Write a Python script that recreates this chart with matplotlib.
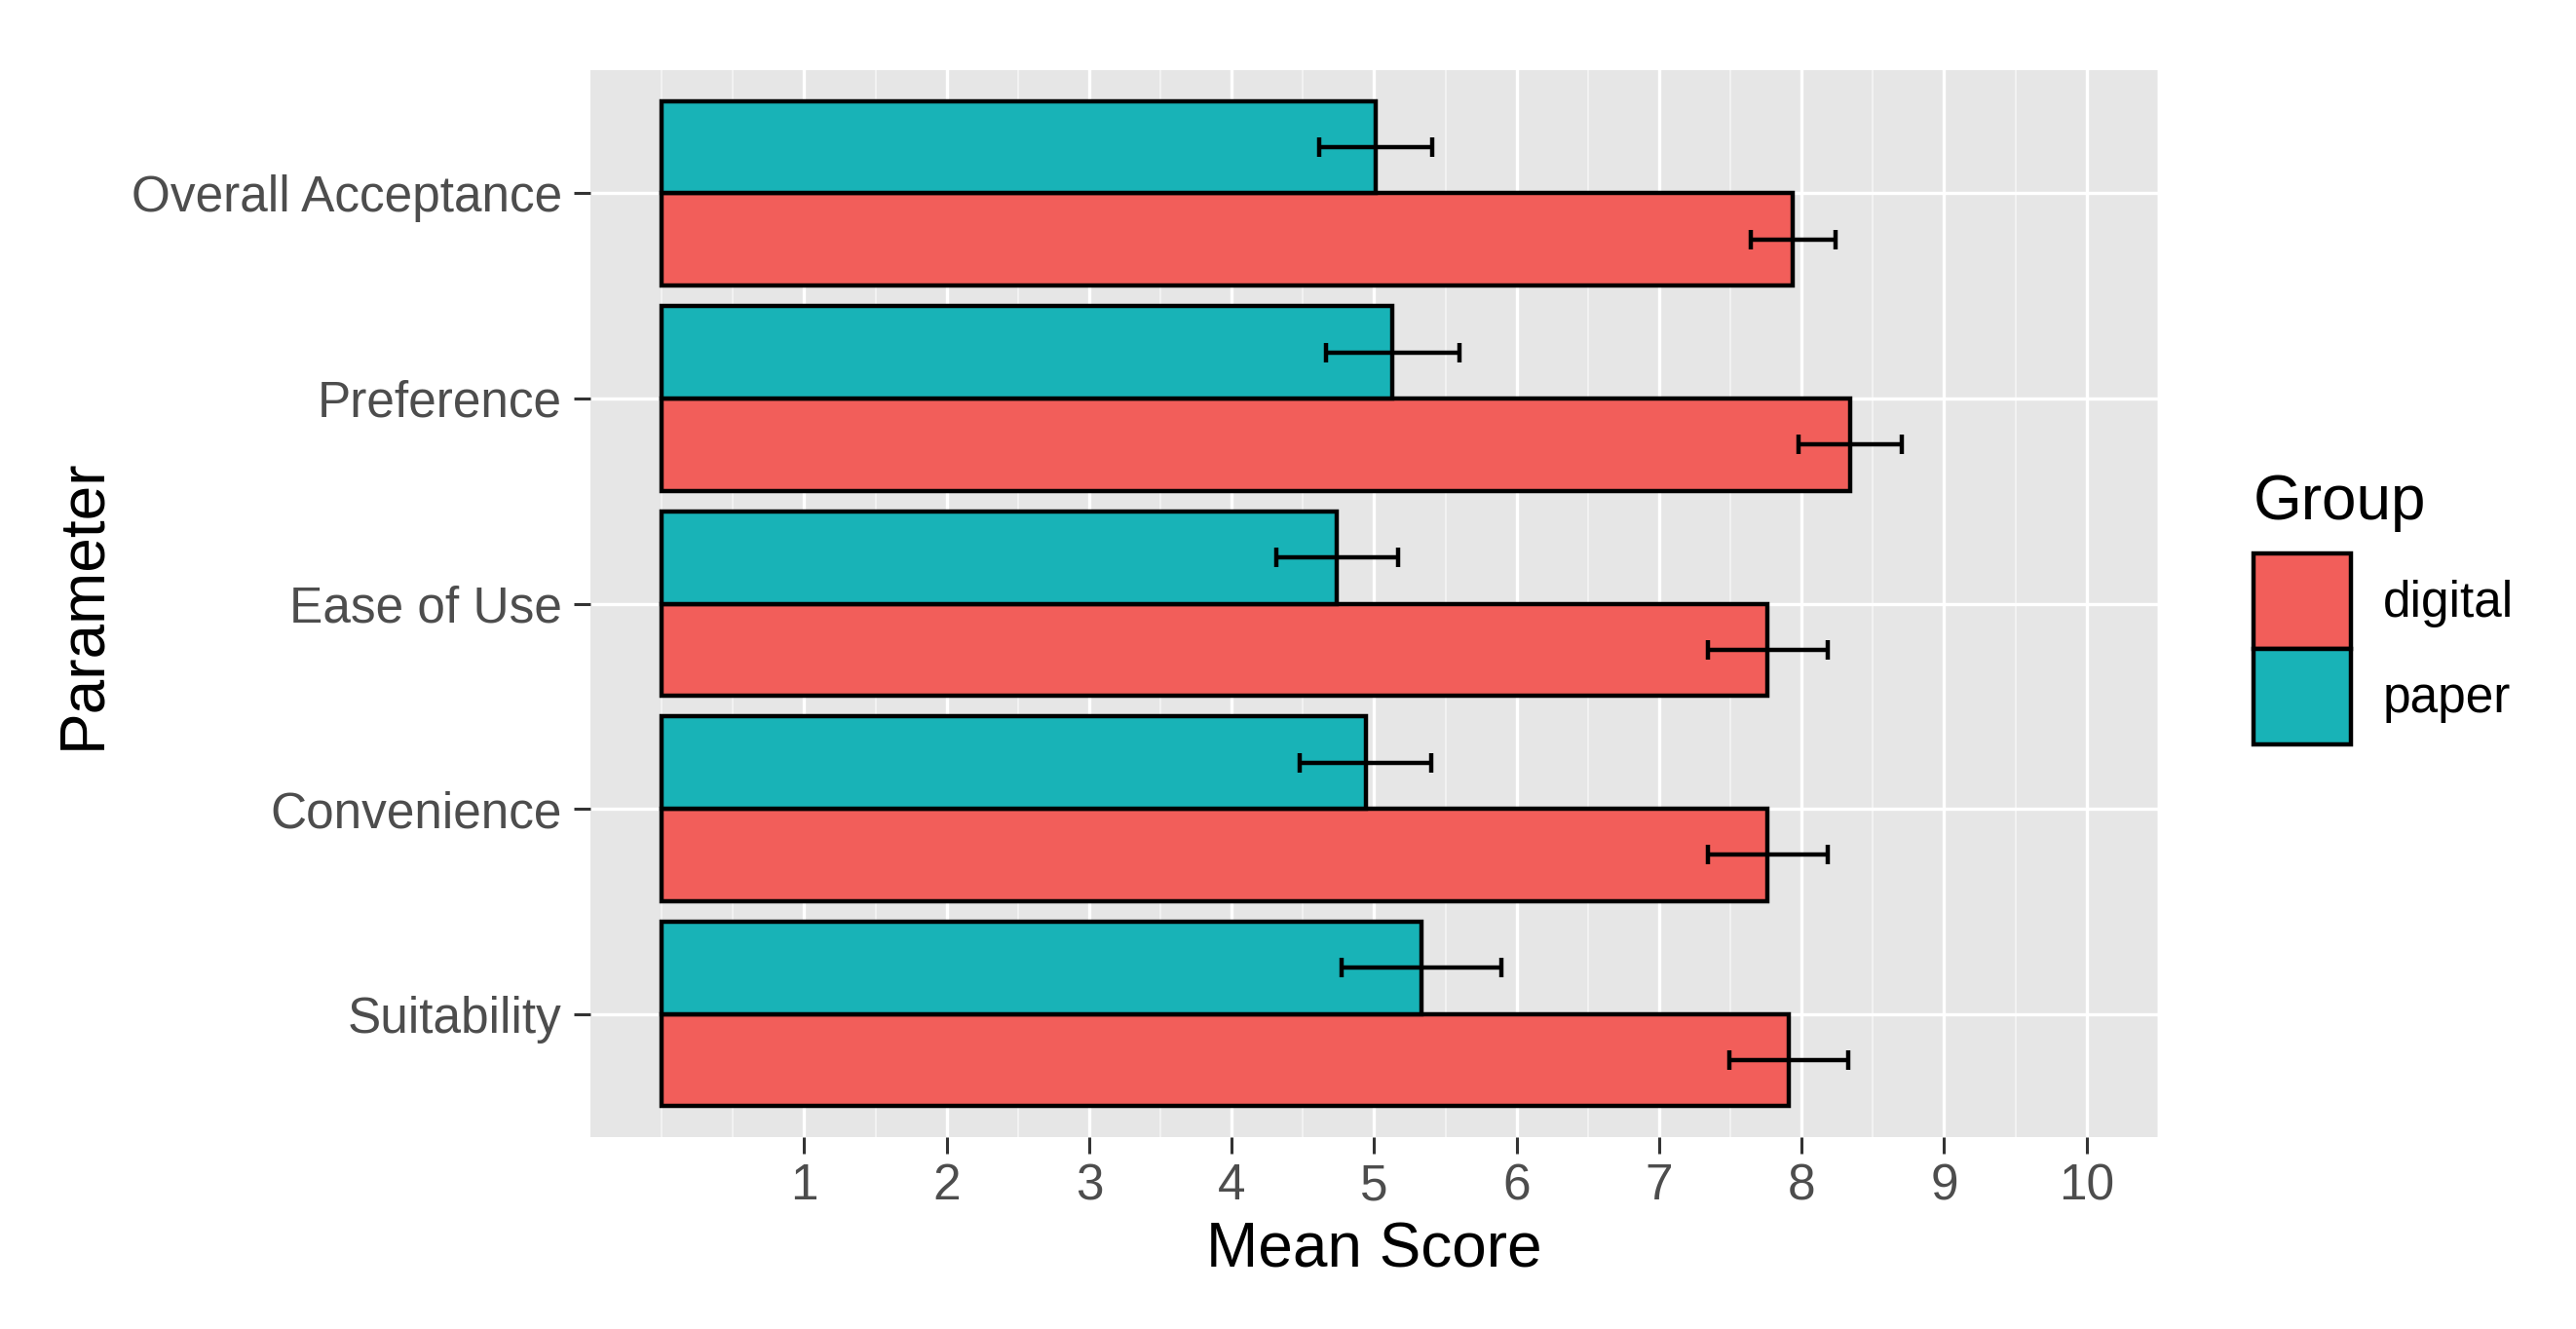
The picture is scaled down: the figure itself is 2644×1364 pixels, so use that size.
import matplotlib
matplotlib.use("Agg")
import matplotlib.pyplot as plt
from matplotlib.patches import Patch
import numpy as np

plt.rcParams['font.family'] = ['Liberation Sans', 'DejaVu Sans']

# ---- data ----
parameters = ["Suitability", "Convenience", "Ease of Use", "Preference", "Overall Acceptance"]
groups = ["digital", "paper"]
digital_mean = [7.91, 7.76, 7.76, 8.34, 7.94]
digital_err = [0.42, 0.42, 0.42, 0.365, 0.30]
paper_mean = [5.33, 4.94, 4.74, 5.13, 5.01]
paper_err = [0.56, 0.46, 0.425, 0.47, 0.395]
x_ticks = [1, 2, 3, 4, 5, 6, 7, 8, 9, 10]

# ---- style ----
col_digital = "#F25E5A"
col_paper = "#18B3B7"
panel_bg = "#E6E6E6"
dodge = 0.45
edge_lw = 3.2

fig = plt.figure(figsize=(26.44, 13.64), dpi=100)
ax = fig.add_axes([0.2292, 0.1444, 0.8377 - 0.2292, 0.9472 - 0.1444])
ax.set_facecolor(panel_bg)
for s in ax.spines.values():
    s.set_visible(False)

ypos = np.arange(1, len(parameters) + 1)

ax.barh(ypos - dodge / 2, digital_mean, height=dodge, color=col_digital,
        edgecolor="black", linewidth=edge_lw, zorder=3)
ax.barh(ypos + dodge / 2, paper_mean, height=dodge, color=col_paper,
        edgecolor="black", linewidth=edge_lw, zorder=3)
ax.errorbar(digital_mean, ypos - dodge / 2, xerr=digital_err, fmt="none",
            ecolor="black", elinewidth=3.2, capsize=7.5, capthick=3.2, zorder=4)
ax.errorbar(paper_mean, ypos + dodge / 2, xerr=paper_err, fmt="none",
            ecolor="black", elinewidth=3.2, capsize=7.5, capthick=3.2, zorder=4)

ax.set_xlim(-0.5, 10.5)
ax.set_ylim(0.4, len(parameters) + 0.6)

ax.set_xticks(x_ticks)
ax.set_xticklabels([str(t) for t in x_ticks])
ax.set_xticks(np.arange(0, 10.51, 0.5), minor=True)
ax.set_yticks(ypos)
ax.set_yticklabels(parameters)

ax.grid(which="major", axis="both", color="white", linewidth=2.4, zorder=1)
ax.grid(which="minor", axis="x", color="#F4F4F4", linewidth=1.3, zorder=0.9)
ax.set_axisbelow(True)

ax.tick_params(axis="both", which="major", length=12, width=2.2, color="#333333",
               labelsize=37, labelcolor="#4D4D4D")
ax.tick_params(axis="x", which="major", pad=7)
ax.tick_params(axis="y", which="major", pad=9)
ax.tick_params(axis="x", which="minor", length=0)

ax.set_xlabel("Mean Score", fontsize=46, color="black", labelpad=8)
ax.set_ylabel("Parameter", fontsize=46, color="black", labelpad=14)

handles = [Patch(facecolor=col_digital, edgecolor="black", linewidth=edge_lw),
           Patch(facecolor=col_paper, edgecolor="black", linewidth=edge_lw)]
leg = fig.legend(handles, groups, title="Group", loc="center left",
                 bbox_to_anchor=(2313 / 2644, 1 - 625 / 1364), frameon=False,
                 fontsize=37, title_fontsize=46, handlelength=1.95,
                 handleheight=2.55, labelspacing=0.0, handletextpad=0.64,
                 borderpad=0, borderaxespad=0, alignment="left")
leg.get_title().set_color("black")
leg._legend_box.sep = 16

fig.savefig("out.png", dpi=100)
